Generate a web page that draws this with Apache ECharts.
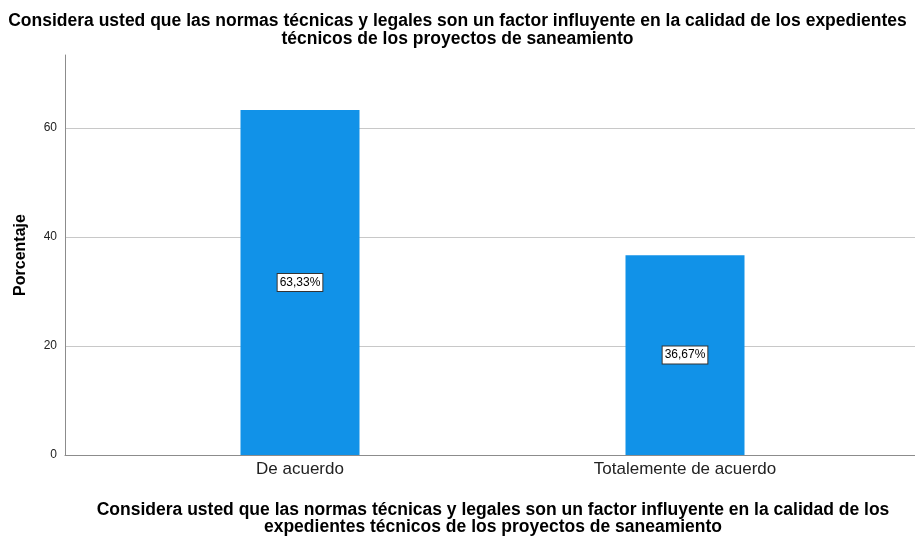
<!DOCTYPE html>
<html><head><meta charset="utf-8">
<script src="https://cdn.jsdelivr.net/npm/echarts@6/dist/echarts.min.js"></script>
<style>html,body{margin:0;padding:0;background:#fff}#c{width:915px;height:536px}</style>
</head><body><div id="c"></div>
<script>
const categories = ['De acuerdo', 'Totalemente de acuerdo'];
const values = [63.33, 36.67];
const valueLabels = ['63,33%', '36,67%'];
const yTicks = [0, 20, 40, 60];
const titleText = 'Considera usted que las normas técnicas y legales son un factor influyente en la calidad de los expedientes\ntécnicos de los proyectos de saneamiento';
const xTitleText = 'Considera usted que las normas técnicas y legales son un factor influyente en la calidad de los\nexpedientes técnicos de los proyectos de saneamiento';
const yTitleText = 'Porcentaje';

const chart = echarts.init(document.getElementById('c'));
const font = 'Liberation Sans, Arial, sans-serif';
const yMax = 73.4;
chart.setOption({
  animation: false,
  title: [{
    text: titleText, left: 'center', top: 7,
    textStyle: {fontFamily: font, fontSize: 17.5, fontWeight: 'bold', color: '#000', lineHeight: 18}
  }, {
    text: xTitleText, left: 488, top: 497, textAlign: 'center',
    textStyle: {fontFamily: font, fontSize: 17.5, fontWeight: 'bold', color: '#000', lineHeight: 17}
  }],
  grid: [
    {left: 65, right: 0, top: 55, bottom: 81},
    {left: 107.5, right: 37.5, top: 55, bottom: 81},
    {left: 65, right: 0, top: 128, bottom: 81}
  ],
  xAxis: [
    {gridIndex: 0, type: 'value', min: 0, max: 1, axisLine: {show: true, onZero: false, lineStyle: {color: '#8c8c8c'}},
     axisTick: {show: false}, axisLabel: {show: false}, splitLine: {show: false}},
    {gridIndex: 1, type: 'category', data: categories, axisLine: {show: false}, axisTick: {show: false},
     axisLabel: {fontFamily: font, fontSize: 17, color: '#222', margin: 6}},
    {gridIndex: 2, type: 'value', min: 0, max: 1, show: false, splitLine: {show: false}}
  ],
  yAxis: [
    {gridIndex: 0, type: 'value', min: 0, max: yMax, interval: 20,
     axisLine: {show: true, lineStyle: {color: '#8c8c8c'}}, axisTick: {show: false},
     axisLabel: {fontFamily: font, fontSize: 12, color: '#222', margin: 8,
       formatter: v => yTicks.includes(v) ? String(v) : ''},
     splitLine: {show: false},
     name: yTitleText, nameLocation: 'middle', nameGap: 36, nameRotate: 90,
     nameTextStyle: {fontFamily: font, fontSize: 16, fontWeight: 'bold', color: '#000'}},
    {gridIndex: 1, type: 'value', min: 0, max: yMax, show: false, splitLine: {show: false}},
    {gridIndex: 2, type: 'value', min: 0, max: 60, interval: 20, axisLine: {show: false},
     axisTick: {show: false}, axisLabel: {show: false},
     splitLine: {show: true, lineStyle: {color: '#c8c8c8', width: 1}}}
  ],
  series: [{
    type: 'bar', xAxisIndex: 1, yAxisIndex: 1, data: values, barWidth: 119,
    itemStyle: {color: '#1192e8'}, z: 3,
    label: {show: true, position: 'inside', formatter: p => valueLabels[p.dataIndex],
      fontFamily: font, fontSize: 12, color: '#000', backgroundColor: '#fff',
      borderColor: '#333', borderWidth: 1, padding: [3, 2, 2, 2]}
  }]
});
</script></body></html>
